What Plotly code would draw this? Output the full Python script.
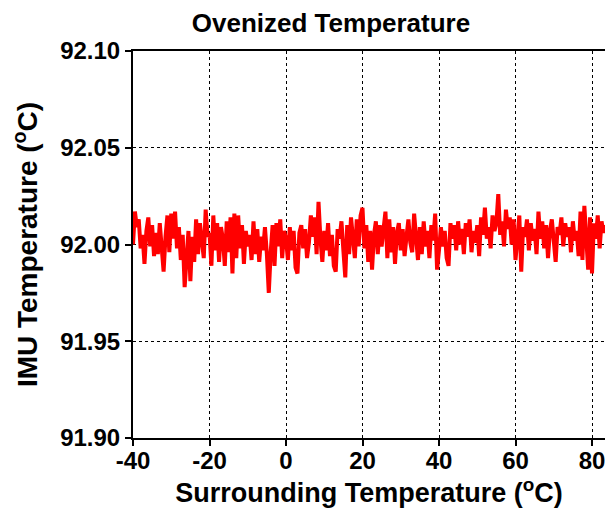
import plotly.graph_objects as go

# Surrounding temperature sample points (°C)
x_start = -40.0
x_step = 0.5

# IMU temperature deviation from the 92.002 °C baseline, in thousandths of a degree
dev_m40_m20 = [-2, 15, 7, 11, -4, 3, -12, 5, 12, -3, 8, -8, 4, -7, 9, -5, -16, 2, 13, -6,
               14, 1, 15, -4, 7, -10, 3, -24, -9, 5, -21, 2, -11, 11, -7, 9, 0, -9, 16, 2]
dev_m20_0 = [4, -13, 13, -5, 9, -11, 7, 1, -13, 10, -6, 12, -17, 14, -9, 13, -4, 8, -12, 5,
             -3, 3, -10, 10, -7, 6, -11, 2, -5, 7, -7, -27, -6, 8, -13, 9, -3, 11, -9, 5]
dev_0_20 = [1, -10, 7, -5, 5, -14, -17, 4, 8, -4, 6, -9, -1, 13, 2, 12, -7, 20, 1, -11,
            5, -5, 9, -8, 3, -13, -16, 6, 1, 10, -5, -19, 8, -7, 12, 0, -9, 11, -3, 13]
dev_20_40 = [17, -4, 8, -11, 5, -15, 3, 10, -7, 8, -3, 6, 15, -9, 11, -6, 7, -12, 4, 9,
             -5, 6, -8, 2, 11, -1, -6, 14, 2, -10, 7, -7, 10, -3, 5, -9, 8, 0, 14, -15]
dev_40_60 = [-5, 7, -3, 5, -9, -13, 9, 1, 8, -5, 10, -2, 6, -7, 9, 2, 11, -6, 5, -1,
             8, -8, 12, 3, 17, 1, 7, -4, 13, 5, 9, 24, 3, 10, -3, 16, 6, 12, -2, 11]
dev_60_84 = [-10, 5, 13, -16, 7, 2, 11, -5, 9, 0, 6, -7, 15, 1, 10, -4, 8, -9, 5, 11,
             -1, -11, 7, 3, 12, -3, 9, 2, 7, -6, 10, 0, 5, -8, 15, -10, 18, 3, -15, 12,
             -17, 9, 1, 13, -4, 10, 4, 8]

base_temp = 92.002
deviations = dev_m40_m20 + dev_m20_0 + dev_0_20 + dev_20_40 + dev_40_60 + dev_60_84
x_vals = [x_start + i * x_step for i in range(len(deviations))]
y_vals = [base_temp + d / 1000.0 for d in deviations]

x_ticks = [-40, -20, 0, 20, 40, 60, 80]
y_ticks = [91.90, 91.95, 92.00, 92.05, 92.10]
y_tick_labels = ["91.90", "91.95", "92.00", "92.05", "92.10"]

FONT = "Liberation Sans, Arial, sans-serif"

fig = go.Figure()
fig.add_trace(go.Scatter(x=x_vals, y=y_vals, mode="lines",
                         line=dict(color="#ff0000", width=4), showlegend=False))

fig.update_layout(
    width=605, height=512,
    margin=dict(l=133, r=0, t=51, b=74),
    paper_bgcolor="white", plot_bgcolor="white",
    title=dict(text="Ovenized Temperature", x=331 / 605, xanchor="center",
               y=1 - 23 / 512, yanchor="middle",
               font=dict(family=FONT, size=26, color="black", weight="bold")),
    font=dict(family=FONT, color="black"),
)
fig.update_xaxes(
    range=[-40, 83.4], tickvals=x_ticks, ticktext=[str(v) for v in x_ticks],
    showline=True, linecolor="black", linewidth=2, mirror=True,
    ticks="outside", ticklen=6, tickwidth=2, tickcolor="black",
    showgrid=True, gridcolor="black", gridwidth=1, griddash="dot",
    zeroline=False, ticklabeloverflow="allow", ticklabelstandoff=-6,
    tickfont=dict(family=FONT, size=24, color="black", weight="bold"),
    title=dict(text="Surrounding Temperature (<sup>o</sup>C)", standoff=0,
               font=dict(family=FONT, size=27, color="black", weight="bold")),
)
fig.update_yaxes(
    range=[91.90, 92.10], tickvals=y_ticks, ticktext=y_tick_labels,
    showline=True, linecolor="black", linewidth=2,
    ticks="outside", ticklen=6, tickwidth=2, tickcolor="black",
    showgrid=True, gridcolor="black", gridwidth=1, griddash="dot",
    zeroline=False,
    tickfont=dict(family=FONT, size=24, color="black", weight="bold"),
    title=dict(text="IMU Temperature (<sup>o</sup>C)", standoff=14,
               font=dict(family=FONT, size=28, color="black", weight="bold")),
)

fig.write_html("out.html")
